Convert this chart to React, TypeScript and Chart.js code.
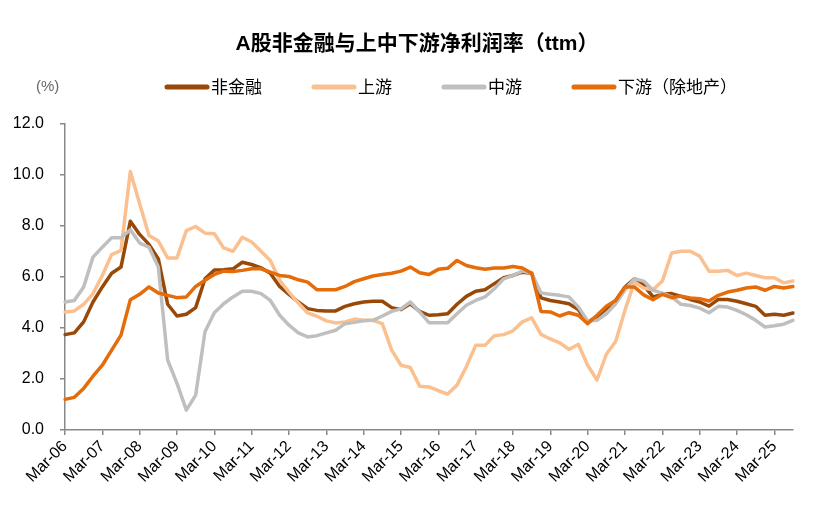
import React, { useEffect, useRef } from "react";
import { Chart, registerables } from "chart.js";

Chart.register(...registerables);

const FONT = '"Liberation Sans", Arial, "Noto Sans CJK SC", sans-serif';

const TITLE = "A股非金融与上中下游净利润率（ttm）";
const UNIT_LABEL = "(%)";

const yearSuffixes = ["06", "07", "08", "09", "10", "11", "12", "13", "14", "15", "16", "17", "18", "19", "20", "21", "22", "23", "24", "25"];
const quarterMonths = ["Mar", "Jun", "Sep", "Dec"];
const categories: string[] = [];
yearSuffixes.forEach((y) => quarterMonths.forEach((m) => categories.push(`${m}-${y}`)));
categories.splice(79); // Mar-06 ... Sep-25

const seriesNames = ["非金融", "上游", "中游", "下游（除地产）"];
const seriesColors = ["#984807", "#FAC090", "#BFBFBF", "#E46C0A"];

const nonFinancial = [
  3.74, 3.81, 4.24, 5.02, 5.61, 6.15, 6.39, 8.19, 7.67, 7.28, 6.71, 4.93, 4.47, 4.54, 4.8, 5.93,
  6.27, 6.28, 6.32, 6.58, 6.49, 6.36, 6.15, 5.63, 5.32, 5.02, 4.76, 4.69, 4.67, 4.67, 4.85, 4.95,
  5.02, 5.05, 5.05, 4.8, 4.72, 4.95, 4.65, 4.5, 4.52, 4.56, 4.93, 5.24, 5.44, 5.5, 5.74, 5.97,
  6.06, 6.19, 6.15, 5.18, 5.08, 5.02, 4.95, 4.72, 4.24, 4.43, 4.76, 5.08, 5.61, 5.93, 5.68, 5.22,
  5.32, 5.35, 5.24, 5.12, 5.02, 4.86, 5.12, 5.12, 5.05, 4.95, 4.85, 4.5, 4.54, 4.5, 4.59,
];

const upstream = [
  4.63, 4.67, 4.93, 5.35, 6.06, 6.88, 7.04, 10.14, 8.87, 7.63, 7.41, 6.75, 6.75, 7.82, 7.98, 7.72,
  7.7, 7.14, 7.01, 7.56, 7.37, 7.01, 6.65, 5.87, 5.41, 4.98, 4.59, 4.46, 4.28, 4.2, 4.24, 4.35,
  4.3, 4.3, 4.17, 3.13, 2.54, 2.45, 1.72, 1.69, 1.54, 1.41, 1.76, 2.48, 3.32, 3.32, 3.7, 3.74,
  3.89, 4.24, 4.4, 3.75, 3.57, 3.42, 3.16, 3.36, 2.54, 1.96, 2.97, 3.47, 4.7, 5.8, 5.57, 5.5,
  5.84, 6.94, 7.01, 7.01, 6.82, 6.23, 6.23, 6.26, 6.06, 6.15, 6.06, 5.97, 5.97, 5.77, 5.84,
];

const midstream = [
  5.02, 5.08, 5.61, 6.78, 7.17, 7.54, 7.54, 7.85, 7.33, 7.17, 6.39, 2.74, 1.83, 0.78, 1.37, 3.85,
  4.6, 4.95, 5.22, 5.44, 5.44, 5.35, 5.08, 4.5, 4.11, 3.81, 3.65, 3.7, 3.81, 3.91, 4.17, 4.22,
  4.28, 4.3, 4.47, 4.65, 4.75, 5.02, 4.63, 4.21, 4.21, 4.21, 4.56, 4.89, 5.08, 5.22, 5.54, 5.93,
  6.06, 6.23, 6.15, 5.37, 5.32, 5.28, 5.22, 4.82, 4.28, 4.3, 4.56, 4.95, 5.5, 5.93, 5.84, 5.48,
  5.37, 5.22, 4.93, 4.88, 4.78, 4.6, 4.85, 4.82, 4.69, 4.52, 4.3, 4.04, 4.09, 4.15, 4.3,
];

const downstream = [
  1.2, 1.28, 1.63, 2.11, 2.54, 3.13, 3.72, 5.11, 5.32, 5.61, 5.37, 5.28, 5.19, 5.22, 5.63, 5.87,
  6.1, 6.23, 6.22, 6.26, 6.32, 6.32, 6.19, 6.06, 6.02, 5.89, 5.8, 5.5, 5.5, 5.5, 5.63, 5.82,
  5.93, 6.04, 6.1, 6.15, 6.23, 6.39, 6.17, 6.1, 6.3, 6.34, 6.65, 6.45, 6.36, 6.3, 6.35, 6.35,
  6.41, 6.35, 6.15, 4.65, 4.63, 4.47, 4.6, 4.5, 4.17, 4.5, 4.85, 5.08, 5.61, 5.61, 5.3, 5.11,
  5.32, 5.19, 5.25, 5.18, 5.15, 5.06, 5.28, 5.41, 5.48, 5.57, 5.61, 5.48, 5.63, 5.57, 5.63,
];

const seriesValues = [nonFinancial, upstream, midstream, downstream];

const Y_MIN = 0;
const Y_MAX = 12;
const Y_STEP = 2;
const X_LABEL_EVERY = 4;

const overlayPlugin = {
  id: "overlay",
  afterDraw(chart: any) {
    const ctx: CanvasRenderingContext2D = chart.ctx;
    ctx.save();
    ctx.textBaseline = "middle";
    ctx.fillStyle = "#000";
    ctx.font = `bold 21px ${FONT}`;
    ctx.textAlign = "center";
    ctx.fillText(TITLE, 417, 44);

    ctx.textAlign = "left";
    ctx.font = `15px ${FONT}`;
    ctx.fillStyle = "#666";
    ctx.fillText(UNIT_LABEL, 36, 87);

    ctx.font = `17px ${FONT}`;
    let x = 165;
    const y = 87;
    chart.data.datasets.forEach((ds: any) => {
      ctx.strokeStyle = ds.borderColor;
      ctx.lineWidth = 5;
      ctx.lineCap = "round";
      ctx.beginPath();
      ctx.moveTo(x + 2, y);
      ctx.lineTo(x + 42, y);
      ctx.stroke();
      x += 46;
      ctx.fillStyle = "#000";
      ctx.fillText(ds.label, x, y + 1);
      x += ctx.measureText(ds.label).width + 50;
    });
    ctx.restore();
  },
};

export default function App() {
  const canvasRef = useRef<HTMLCanvasElement | null>(null);

  useEffect(() => {
    document.body.style.margin = "0";
    const canvas = canvasRef.current;
    if (!canvas) return;
    Chart.defaults.font.family = FONT;

    const chart = new Chart(canvas, {
      type: "line",
      data: {
        labels: categories,
        datasets: seriesNames.map((name, i) => ({
          label: name,
          data: seriesValues[i],
          borderColor: seriesColors[i],
          backgroundColor: seriesColors[i],
          borderWidth: 3.5,
          pointRadius: 0,
          pointHoverRadius: 0,
          tension: 0,
          fill: false,
          borderCapStyle: "round" as const,
          borderJoinStyle: "round" as const,
          order: seriesNames.length - i,
        })),
      },
      options: {
        animation: false,
        responsive: true,
        maintainAspectRatio: false,
        layout: { padding: { top: 124, right: 22, left: 0, bottom: 0 } },
        plugins: {
          legend: { display: false },
          title: { display: false },
          tooltip: { enabled: false },
        },
        scales: {
          x: {
            type: "category",
            offset: false,
            afterFit: (scale: any) => {
              scale.height = 78;
            },
            border: { display: true, color: "#888", width: 1.5 },
            grid: {
              drawOnChartArea: false,
              drawTicks: true,
              tickLength: 5,
              lineWidth: 1.5,
              color: (c: any) => (c.index % X_LABEL_EVERY === 0 ? "#888" : "rgba(0,0,0,0)"),
            },
            ticks: {
              autoSkip: false,
              maxRotation: 45,
              minRotation: 45,
              padding: 2,
              color: "#000",
              font: { size: 16, family: FONT },
              callback: (_v: any, idx: number) => (idx % X_LABEL_EVERY === 0 ? categories[idx] : ""),
            },
          },
          y: {
            min: Y_MIN,
            max: Y_MAX,
            afterFit: (scale: any) => {
              scale.width = 65;
            },
            border: { display: true, color: "#888", width: 1.5 },
            grid: {
              drawOnChartArea: false,
              drawTicks: true,
              tickLength: 5,
              lineWidth: 1.5,
              color: "#888",
            },
            ticks: {
              stepSize: Y_STEP,
              padding: 16,
              color: "#000",
              font: { size: 16, family: FONT },
              callback: (v: any) => Number(v).toFixed(1),
            },
          },
        },
      },
      plugins: [overlayPlugin],
    });

    return () => chart.destroy();
  }, []);

  return (
    <div style={{ width: 815, height: 508, position: "relative", background: "#fff" }}>
      <canvas ref={canvasRef} />
    </div>
  );
}
